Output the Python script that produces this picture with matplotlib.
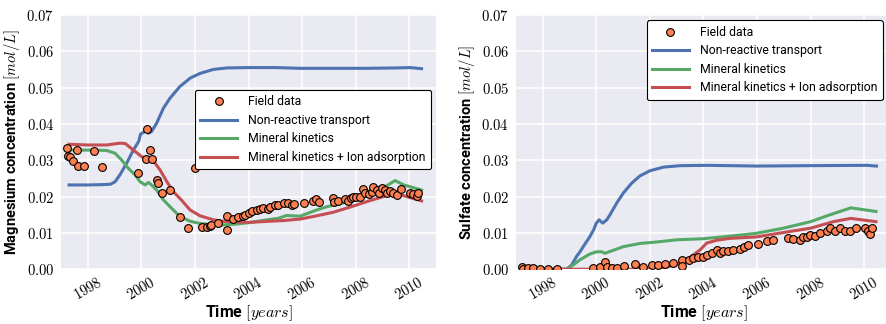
import matplotlib
matplotlib.use('Agg')
import matplotlib.pyplot as plt
from matplotlib.ticker import FuncFormatter, MultipleLocator

plt.rcParams['mathtext.fontset'] = 'cm'
plt.rcParams['font.family'] = ['Roboto', 'DejaVu Sans']

# --- Magnesium: simulations (decimal years, mol/L)
mg_nr_t = [1997.3, 1998.0, 1998.6, 1998.85, 1999.02, 1999.2, 1999.45, 1999.7, 1999.9, 1999.97,
           2000.1, 2000.2, 2000.26, 2000.38, 2000.57, 2000.82, 2001.07, 2001.44, 2001.82, 2002.19,
           2002.69, 2003.18, 2004.0, 2005.0, 2005.92, 2007.0, 2008.41, 2009.5, 2010.03, 2010.46]
mg_nr = [0.0232, 0.0232, 0.0233, 0.0234, 0.0241, 0.0260, 0.0292, 0.0328, 0.0352, 0.0372,
         0.0378, 0.0386, 0.0374, 0.0379, 0.0402, 0.0443, 0.0471, 0.0503, 0.0526, 0.0539,
         0.0550, 0.0554, 0.0555, 0.0555, 0.0553, 0.0553, 0.0553, 0.0554, 0.0555, 0.0552]

mg_kin_t = [1997.3, 1998.0, 1998.7, 1999.02, 1999.26, 1999.51, 1999.76, 1999.95, 2000.14, 2000.26,
            2000.38, 2000.57, 2000.82, 2001.07, 2001.44, 2001.82, 2002.19, 2002.69, 2003.06, 2003.5,
            2004.0, 2004.68, 2005.1, 2005.42, 2005.92, 2006.54, 2006.92, 2007.5, 2008.0, 2008.5,
            2008.9, 2009.47, 2009.8, 2010.46]
mg_kin = [0.0328, 0.0328, 0.0327, 0.0319, 0.0301, 0.0278, 0.0260, 0.0241, 0.0232, 0.0239,
          0.0232, 0.0218, 0.0191, 0.0172, 0.0145, 0.0132, 0.0126, 0.0122, 0.0122, 0.0124,
          0.0128, 0.0136, 0.0140, 0.0148, 0.0146, 0.0163, 0.0172, 0.0182, 0.0191, 0.0206,
          0.0218, 0.0244, 0.0232, 0.0218]

mg_ads_t = [1997.3, 1998.0, 1998.7, 1999.2, 1999.4, 1999.7, 2000.01, 2000.26, 2000.45, 2000.7,
            2000.95, 2001.19, 2001.5, 2001.82, 2002.19, 2002.69, 2003.18, 2004.0, 2005.3, 2005.92,
            2006.54, 2007.17, 2007.79, 2008.41, 2009.03, 2009.53, 2009.9, 2010.46]
mg_ads = [0.0344, 0.0342, 0.0342, 0.0347, 0.0346, 0.0328, 0.0310, 0.0303, 0.0298, 0.0273,
          0.0241, 0.0214, 0.0190, 0.0163, 0.0147, 0.0136, 0.0131, 0.0129, 0.0134, 0.0138,
          0.0147, 0.0157, 0.0171, 0.0186, 0.0200, 0.0209, 0.0200, 0.0188]

# --- Magnesium: field samples
mg_obs_t = [1997.21, 1997.27, 1997.33, 1997.46, 1997.59, 1997.65, 1997.86, 1998.24, 1998.52, 1999.86,
            2000.20, 2000.16, 2000.32, 2000.39, 2000.57, 2000.61, 2000.78, 2001.07, 2001.44, 2001.75,
            2002.02, 2002.28, 2002.44, 2002.56, 2002.60, 2002.87, 2003.18, 2003.18, 2003.43, 2003.62,
            2003.78, 2003.86, 2004.00, 2004.12, 2004.30, 2004.42, 2004.53, 2004.74, 2004.80, 2004.99,
            2005.11, 2005.32, 2005.48, 2005.61, 2005.70, 2006.07, 2006.40, 2006.52, 2006.64, 2007.14,
            2007.19, 2007.35, 2007.60, 2007.70, 2007.81, 2007.91, 2008.02, 2008.16, 2008.26, 2008.34,
            2008.50, 2008.60, 2008.66, 2008.78, 2008.88, 2008.97, 2009.08, 2009.18, 2009.28, 2009.38,
            2009.53, 2009.68, 2010.03, 2010.15, 2010.28, 2010.34]
mg_obs = [0.0333, 0.0312, 0.0310, 0.0299, 0.0328, 0.0284, 0.0284, 0.0326, 0.0282, 0.0266,
          0.0385, 0.0303, 0.0328, 0.0303, 0.0246, 0.0237, 0.0211, 0.0218, 0.0145, 0.0114,
          0.0280, 0.0116, 0.0117, 0.0120, 0.0122, 0.0127, 0.0147, 0.0109, 0.0139, 0.0143,
          0.0147, 0.0150, 0.0154, 0.0159, 0.0163, 0.0165, 0.0168, 0.0165, 0.0172, 0.0177,
          0.0177, 0.0182, 0.0182, 0.0177, 0.0180, 0.0183, 0.0189, 0.0193, 0.0186, 0.0195,
          0.0186, 0.0189, 0.0193, 0.0189, 0.0195, 0.0200, 0.0198, 0.0200, 0.0220, 0.0209,
          0.0207, 0.0213, 0.0227, 0.0218, 0.0211, 0.0223, 0.0218, 0.0211, 0.0215, 0.0209,
          0.0205, 0.0220, 0.0211, 0.0207, 0.0202, 0.0209]

# --- Sulfate: simulations
so4_nr_t = [1997.2, 1998.0, 1998.89, 1999.08, 1999.26, 1999.39, 1999.51, 1999.76, 1999.91, 1999.99,
            2000.1, 2000.24, 2000.39, 2000.51, 2000.76, 2001.0, 2001.32, 2001.63, 2002.0, 2002.5,
            2003.12, 2004.12, 2005.98, 2007.85, 2010.09, 2010.46]
so4_nr = [0.0, 0.0, 0.0, 0.0012, 0.0035, 0.0048, 0.0062, 0.0090, 0.0110, 0.0126,
          0.0136, 0.0127, 0.0136, 0.0150, 0.0182, 0.0209, 0.0237, 0.0257, 0.0271, 0.0281,
          0.0285, 0.0286, 0.0284, 0.0285, 0.0286, 0.0284]

so4_kin_t = [1997.2, 1998.0, 1998.89, 1999.14, 1999.39, 1999.76, 2000.01, 2000.2, 2000.32, 2000.63,
             2001.0, 2001.63, 2002.25, 2003.0, 2004.0, 2005.11, 2005.98, 2006.98, 2008.0, 2008.69,
             2009.5, 2010.44]
so4_kin = [0.0, 0.0, 0.0, 0.0012, 0.0026, 0.0042, 0.0048, 0.0048, 0.0044, 0.0052,
           0.0062, 0.0071, 0.0075, 0.0081, 0.0084, 0.0092, 0.0099, 0.0113, 0.0131, 0.0149,
           0.0169, 0.0159]

so4_ads_t = [1997.2, 1999.0, 2002.2, 2002.62, 2003.0, 2003.5, 2003.87, 2004.12, 2004.5, 2005.0,
             2005.98, 2007.23, 2008.0, 2008.85, 2009.5, 2010.44]
so4_ads = [0.0, 0.0, 0.0, 0.0006, 0.0013, 0.0033, 0.0053, 0.0072, 0.0080, 0.0085,
           0.0089, 0.0104, 0.0113, 0.0131, 0.0140, 0.0131]

# --- Sulfate: field samples
so4_obs_t = [1997.21, 1997.27, 1997.45, 1997.65, 1997.9, 1998.21, 1998.52, 1999.86, 2000.13, 2000.32,
             2000.38, 2000.57, 2000.76, 2001.04, 2001.44, 2001.75, 2002.06, 2002.31, 2002.56, 2002.85,
             2003.18, 2003.18, 2003.47, 2003.62, 2003.8, 2003.97, 2004.12, 2004.3, 2004.52, 2004.61,
             2004.74, 2004.93, 2005.11, 2005.36, 2005.52, 2005.67, 2006.05, 2006.36, 2006.61, 2007.14,
             2007.35, 2007.6, 2007.72, 2007.85, 2007.97, 2008.16, 2008.35, 2008.6, 2008.72, 2008.91,
             2009.1, 2009.28, 2009.47, 2009.69, 2010.03, 2010.15, 2010.22, 2010.28]
so4_obs = [0.0005, 0.0000, 0.0003, 0.0003, 0.0000, 0.0000, 0.0000, 0.0003, 0.0005, 0.0021,
           0.0005, 0.0003, 0.0003, 0.0009, 0.0015, 0.0005, 0.0013, 0.0013, 0.0014, 0.0017,
           0.0026, 0.0009, 0.0026, 0.0030, 0.0035, 0.0033, 0.0040, 0.0046, 0.0053, 0.0046,
           0.0049, 0.0049, 0.0053, 0.0057, 0.0062, 0.0066, 0.0070, 0.0079, 0.0081, 0.0085,
           0.0082, 0.0081, 0.0090, 0.0088, 0.0094, 0.0092, 0.0101, 0.0104, 0.0113, 0.0104,
           0.0113, 0.0104, 0.0104, 0.0113, 0.0113, 0.0104, 0.0097, 0.0113]

BLUE, GREEN, RED = '#4C72B0', '#55A868', '#C44E52'
DOT = '#FF7F50'

fig = plt.figure(figsize=(8.87, 3.24), dpi=100)
ax1 = fig.add_axes([0.0688, 0.169, 0.4228, 0.785])
ax2 = fig.add_axes([0.5817, 0.169, 0.4228, 0.785])


def panel(ax, obs_t, obs, nr_t, nr, kin_t, kin, ads_t, ads, ylab, leg_anchor, leg_loc):
    ax.set_facecolor('#EAEAF2')
    for s in ax.spines.values():
        s.set_visible(False)
    ax.grid(True, color='white', lw=1.1)
    ax.set_axisbelow(True)
    ax.plot(obs_t, obs, 'o', ms=5.6, mfc=DOT, mec='black', mew=0.8, ls='none',
            label='Field data', zorder=4)
    ax.plot(nr_t, nr, color=BLUE, lw=2.2, label='Non-reactive transport')
    ax.plot(kin_t, kin, color=GREEN, lw=2.2, label='Mineral kinetics')
    ax.plot(ads_t, ads, color=RED, lw=2.2, label='Mineral kinetics + Ion adsorption')
    ax.set_xlim(1997, 2011)
    ax.set_ylim(0, 0.07)
    ax.xaxis.set_major_locator(MultipleLocator(2))
    ax.yaxis.set_major_locator(MultipleLocator(0.01))
    ax.xaxis.set_major_formatter(FuncFormatter(lambda v, p: r'$%d$' % round(v)))
    ax.yaxis.set_major_formatter(FuncFormatter(lambda v, p: r'$%.2f$' % v))
    ax.tick_params(axis='y', length=0, labelsize=10.5, pad=5)
    ax.tick_params(axis='x', length=0, labelsize=10.5, pad=4)
    for lab in ax.get_xticklabels():
        lab.set_rotation(30)
    ax.set_xlabel(r'Time $[years]$', fontsize=11.5, fontweight='bold', labelpad=0)
    ax.set_ylabel(ylab, fontsize=10.5, fontweight='bold', labelpad=3)
    leg = ax.legend(loc=leg_loc, bbox_to_anchor=leg_anchor, frameon=True, fontsize=8.8,
                    framealpha=1, edgecolor='black', fancybox=True, borderaxespad=0,
                    handlelength=3.0, handletextpad=0.9, labelspacing=0.45, borderpad=0.45)
    leg.get_frame().set_linewidth(0.8)


panel(ax1, mg_obs_t, mg_obs, mg_nr_t, mg_nr, mg_kin_t, mg_kin, mg_ads_t, mg_ads,
      r'Magnesium concentration $[mol/L]$', (0.357, 0.705), 'upper left')
panel(ax2, so4_obs_t, so4_obs, so4_nr_t, so4_nr, so4_kin_t, so4_kin, so4_ads_t, so4_ads,
      r'Sulfate concentration $[mol/L]$', (0.978, 0.978), 'upper right')

fig.savefig('out.png', dpi=100)
